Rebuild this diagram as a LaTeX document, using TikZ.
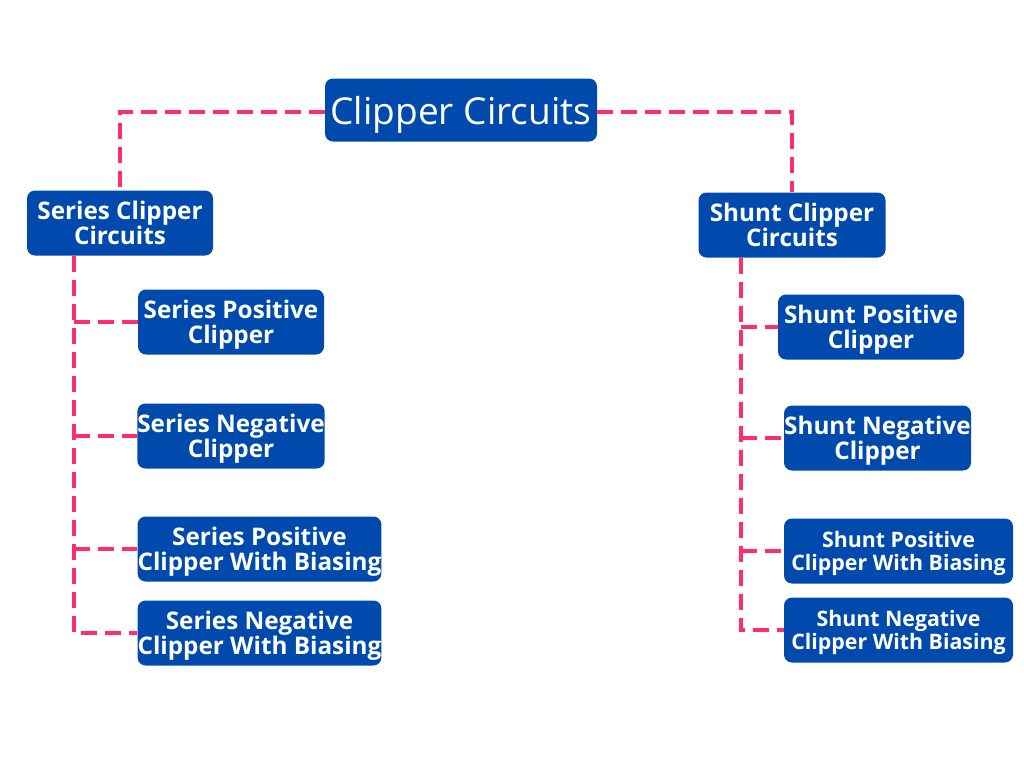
\documentclass[tikz,border=0pt]{standalone}
\usepackage{fontspec}
\setmainfont{Open Sans}
\definecolor{boxblue}{HTML}{004AAD}
\definecolor{linkpink}{HTML}{FF2E6B}
\begin{document}
\begin{tikzpicture}[x=0.75pt,y=-0.75pt,
  box/.style={draw=none,fill=boxblue,rounded corners=6pt,text=white,align=center,inner sep=0pt,
    minimum height=48.75pt,text depth=0pt,font=\bfseries\fontsize{18.2}{19}\selectfont},
  smallbox/.style={box,font=\bfseries\fontsize{16}{16.8}\selectfont},
  conn/.style={draw=linkpink,line width=3.2pt,dash pattern=on 12pt off 6pt}]
\useasboundingbox (0,0) rectangle (1024,768);
\fill[white] (0,0) rectangle (1024,768);
\coordinate (lt) at (74,0);
\coordinate (rt) at (741,0);
\node[box,minimum width=204pt,minimum height=47.25pt,font=\fontsize{27.8}{30}\selectfont] (top) at (461,110) {Clipper Circuits};
\node[box,minimum width=139.5pt] (series) at (120,223) {Series Clipper\\Circuits};
\node[box,minimum width=140.25pt] (shunt) at (792,225) {Shunt Clipper\\Circuits};
\node[box,minimum width=139.5pt] (spc) at (231,322) {Series Positive\\Clipper};
\node[box,minimum width=139.5pt] (snc) at (231,436) {Series Negative\\Clipper};
\node[box,minimum width=182.25pt] (spb) at (259.5,549) {Series Positive\\Clipper With Biasing};
\node[box,minimum width=182.25pt] (snb) at (259.5,633) {Series Negative\\Clipper With Biasing};
\node[box,minimum width=139.5pt] (hpc) at (871,327) {Shunt Positive\\Clipper};
\node[box,minimum width=140.25pt] (hnc) at (877.5,438) {Shunt Negative\\Clipper};
\node[smallbox,minimum width=171.75pt] (hpb) at (898.5,551) {Shunt Positive\\Clipper With Biasing};
\node[smallbox,minimum width=171.75pt] (hnb) at (898.5,630) {Shunt Negative\\Clipper With Biasing};
\draw[conn] ([yshift=-1.5pt]top.west) -| (series.north);
\draw[conn] ([yshift=-1.5pt]top.east) -| (shunt.north);
\draw[conn] (series.south -| lt) |- (snb.west);
\draw[conn] (lt |- spc.west) -- (spc.west);
\draw[conn] (lt |- snc.west) -- (snc.west);
\draw[conn] (lt |- spb.west) -- (spb.west);
\draw[conn] (shunt.south -| rt) |- (hnb.west);
\draw[conn] (rt |- hpc.west) -- (hpc.west);
\draw[conn] (rt |- hnc.west) -- (hnc.west);
\draw[conn] (rt |- hpb.west) -- (hpb.west);
\end{tikzpicture}
\end{document}
